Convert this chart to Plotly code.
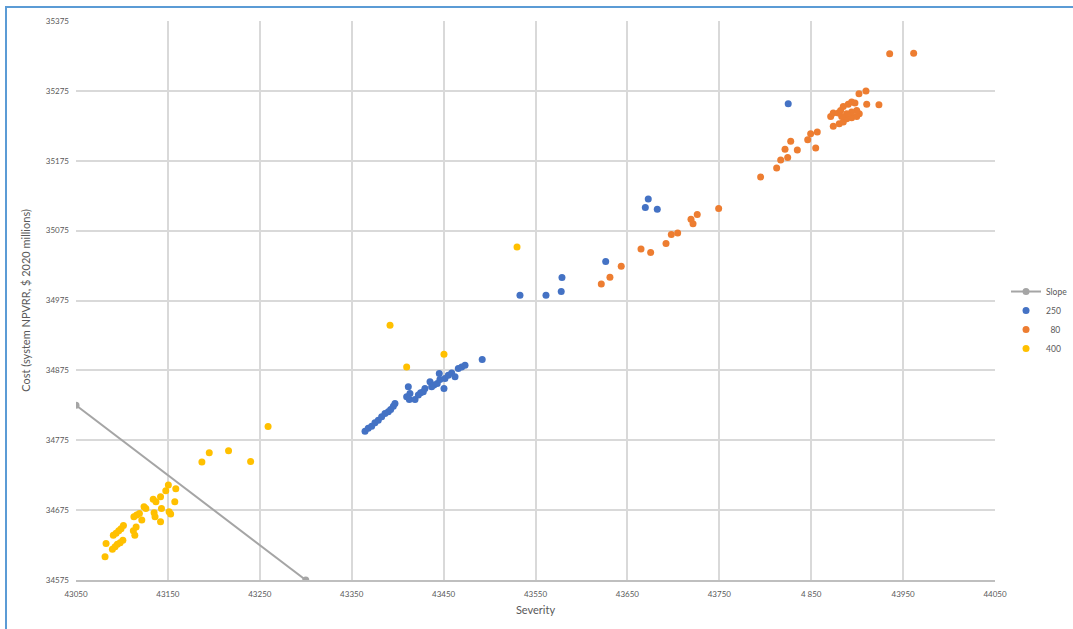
import plotly.graph_objects as go

# ---- data ----
slope_x = [43050, 43300]
slope_y = [34825, 34575]

s250_x = [43364.5, 43368, 43371.7, 43375.3, 43378.9, 43382.6, 43386.2, 43389.8, 43392.4, 43395.3,
          43397.1, 43409.8, 43411.6, 43412.7, 43413.4, 43418.9, 43422.5, 43425, 43427.9, 43429.7,
          43435.2, 43437, 43439.5, 43443.1, 43445.3, 43446, 43450.4, 43451.5, 43455.1, 43458.8,
          43462.4, 43466, 43469.7, 43473.3, 43492, 43533.1, 43561.4, 43578, 43578.8, 43626.4,
          43669.5, 43672.7, 43682.5, 43825]
s250_y = [34788, 34792, 34795.2, 34800, 34803.8, 34808.5, 34813.4, 34815.7, 34819.1, 34823.8,
          34827.7, 34837.1, 34851.4, 34833.4, 34842, 34833.4, 34839.6, 34842.8, 34844.3, 34849.1,
          34858.6, 34851.4, 34853.9, 34856.3, 34870.6, 34862, 34849.1, 34863.4, 34868.2, 34871.4,
          34865.7, 34877.7, 34880, 34882.5, 34890.6, 34982.6, 34982.6, 34987.8, 35007.9, 35030.7,
          35108, 35120.3, 35105.5, 35256.7]

s80_x = [43621.6, 43631, 43643.3, 43664.8, 43675.3, 43692, 43697.8, 43704.7, 43719.2, 43721.4,
         43726, 43749.3, 43795, 43812.4, 43816.8, 43824.4, 43821.5, 43827.7, 43834.9, 43846.2,
         43854.9, 43849.4, 43856.6, 43874, 43880.5, 43884.9, 43888.6, 43894, 43899.5, 43902.3,
         43899.5, 43894, 43888.6, 43883.2, 43871.2, 43874, 43879.5, 43882, 43884.9, 43890.3,
         43894, 43897.6, 43902, 43909.6, 43910.4, 43923.7, 43935.4, 43961.5]
s80_y = [34998.7, 35008.3, 35024, 35048.8, 35043.6, 35056.5, 35069.4, 35071.6, 35091.2, 35085,
         35098, 35106.5, 35151.7, 35164.6, 35176, 35179.5, 35191.3, 35202.8, 35190.3, 35205.2,
         35193.2, 35213.8, 35216, 35224.2, 35228, 35230.4, 35235.2, 35236.7, 35238.5, 35242.4,
         35247, 35244.7, 35242.4, 35238.5, 35238.5, 35243.2, 35243.2, 35247, 35252.8, 35255.7,
         35259, 35257.5, 35271, 35274.7, 35255.7, 35255.3, 35328.2, 35329]

s400_x = [43081.6, 43082.7, 43089.6, 43092.5, 43095, 43098, 43101, 43090.6, 43093.6, 43096.5,
          43099, 43101.6, 43112.4, 43114, 43115.4, 43113, 43116, 43119, 43121.6, 43124,
          43126, 43134, 43137, 43135, 43136, 43142, 43143, 43142, 43147.7, 43150.5,
          43158.6, 43157.5, 43151.3, 43153, 43187, 43195, 43216, 43240, 43259,
          43391.7, 43409.8, 43450.4, 43529.9]
s400_y = [34608.3, 34627.4, 34619, 34622.6, 34626, 34628.3, 34632, 34638.9, 34641.8, 34645.5,
          34648.4, 34653, 34645.5, 34638.9, 34651, 34665.5, 34668, 34670, 34660.8, 34679.8,
          34677.5, 34690.4, 34687, 34671.3, 34665.5, 34694, 34677.5, 34658.4, 34702.6, 34710.8,
          34705.5, 34687, 34672.7, 34669.3, 34743.7, 34757, 34760, 34744.7, 34794.7,
          34939.7, 34880, 34898.2, 35051.6]

x_ticks = [43050, 43150, 43250, 43350, 43450, 43550, 43650, 43750, 43850, 43950, 44050]
x_tick_text = ["43050", "43150", "43250", "43350", "43450", "43550", "43650", "43750", "4 850", "43950", "44050"]
y_ticks = [34575, 34675, 34775, 34875, 34975, 35075, 35175, 35275, 35375]
y_tick_text = [str(v) for v in y_ticks]

FONT = "Lato, 'Open Sans', sans-serif"

fig = go.Figure()
fig.add_trace(go.Scatter(x=slope_x, y=slope_y, mode="lines+markers", name="Slope",
                         line=dict(color="#A5A5A5", width=2),
                         marker=dict(color="#A5A5A5", size=7)))
fig.add_trace(go.Scatter(x=s250_x, y=s250_y, mode="markers", name="250",
                         marker=dict(color="#4472C4", size=7)))
fig.add_trace(go.Scatter(x=s80_x, y=s80_y, mode="markers", name="\u00a0\u00a080",
                         marker=dict(color="#ED7D31", size=7)))
fig.add_trace(go.Scatter(x=s400_x, y=s400_y, mode="markers", name="400",
                         marker=dict(color="#FFC000", size=7)))

fig.update_layout(
    width=1073, height=629,
    margin=dict(l=76, r=78, t=21, b=49, autoexpand=False),
    paper_bgcolor="white", plot_bgcolor="white",
    font=dict(family=FONT, color="#595959", size=9),
    legend=dict(x=1.012, y=0.542, xanchor="left", yanchor="top",
                font=dict(size=8.5, color="#595959"), bgcolor="rgba(0,0,0,0)",
                itemwidth=30, tracegroupgap=0),
    shapes=[dict(type="rect", xref="paper", yref="paper",
                 x0=-70/919, y0=-60/559, x1=100/919 + 1, y1=14/559 + 1,
                 line=dict(color="#5B9BD5", width=2), fillcolor="rgba(0,0,0,0)", layer="below")],
)
fig.update_xaxes(range=[43050, 44050], tickvals=x_ticks, ticktext=x_tick_text,
                 showgrid=True, gridcolor="#D9D9D9", gridwidth=1.5,
                 zeroline=False, showline=True, linecolor="#BFBFBF", linewidth=1.5,
                 ticks="", tickfont=dict(size=8, color="#595959"), ticklabelstandoff=6,
                 title=dict(text="Severity", font=dict(size=11, color="#595959"), standoff=8))
fig.update_yaxes(range=[34575, 35375], tickvals=y_ticks, ticktext=y_tick_text,
                 showgrid=True, gridcolor="#D9D9D9", gridwidth=1.5,
                 zeroline=False, showline=False,
                 ticks="", tickfont=dict(size=8, color="#595959"), ticklabelstandoff=6,
                 title=dict(text="Cost (system NPVRR, $ 2020 millions)", font=dict(size=11, color="#595959"), standoff=12))

fig.write_html("out.html")
